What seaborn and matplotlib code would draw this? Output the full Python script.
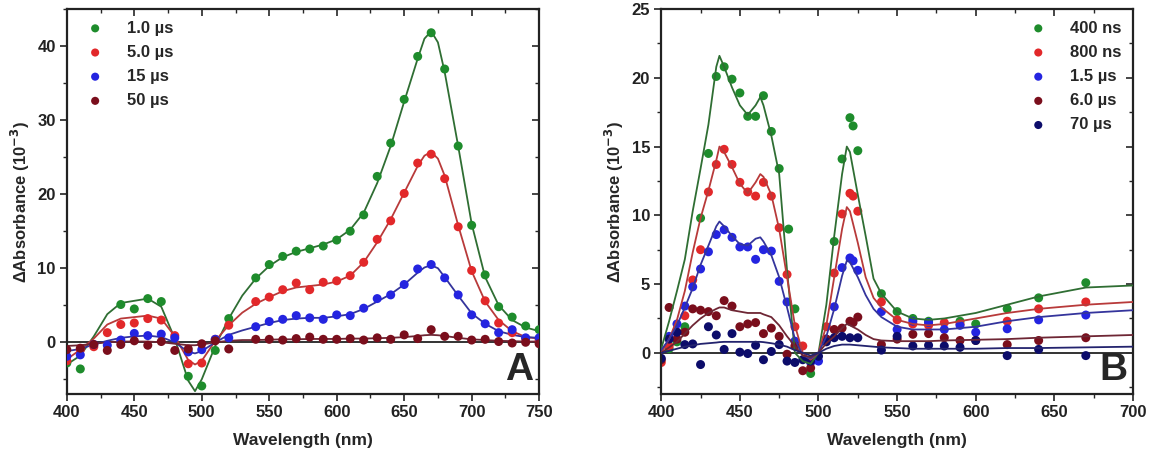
import matplotlib
matplotlib.use("Agg")
import matplotlib.pyplot as plt
import seaborn as sns
from matplotlib.ticker import MultipleLocator

# ---- panel A: measured points ----
green_a_x = [400, 410, 440, 450, 460, 470, 490, 500, 510, 520, 540, 550, 560, 570, 580, 590, 600, 610,
             620, 630, 640, 650, 660, 670, 680, 690, 700, 710, 720, 730, 740, 750]
green_a_y = [-2.8, -3.6, 5.1, 4.5, 5.9, 5.5, -4.6, -5.9, -1.1, 3.2, 8.7, 10.5, 11.6, 12.3, 12.6, 13.0, 13.8, 15.0,
             17.2, 22.4, 26.9, 32.8, 38.6, 41.8, 36.9, 26.5, 15.8, 9.1, 4.8, 3.4, 2.2, 1.7]
other_a_x = [400, 410, 420, 430, 440, 450, 460, 470, 480, 490, 500, 510, 520, 540, 550, 560, 570, 580,
             590, 600, 610, 620, 630, 640, 650, 660, 670, 680, 690, 700, 710, 720, 730, 740, 750]
red_a_y = [-2.5, -1.0, -0.6, 1.3, 2.4, 2.6, 3.2, 3.0, 0.9, -2.9, -2.8, 0.4, 2.3, 5.5, 6.1, 7.1, 8.0, 7.1,
           8.1, 8.3, 9.0, 10.8, 13.9, 16.4, 20.1, 24.2, 25.4, 22.1, 15.6, 9.7, 5.6, 2.6, 1.3, 0.5, 0.3]
blue_a_y = [-1.9, -1.7, -0.3, -0.4, 0.3, 1.2, 0.9, 1.1, 0.6, -1.3, -1.0, 0.4, 0.6, 2.1, 2.8, 3.1, 3.6, 3.3,
            3.1, 3.7, 3.6, 4.6, 5.9, 6.4, 7.8, 9.9, 10.5, 8.7, 6.4, 3.7, 2.5, 1.3, 1.7, 0.6, 0.6]
dred_a_y = [-1.0, -0.8, -0.3, -1.1, -0.3, 0.2, -0.4, 0.1, -1.1, -0.9, -0.2, 0.2, -0.9, 0.4, 0.4, 0.3, 0.5, 0.7,
            0.4, 0.4, 0.5, 0.3, 0.6, 0.4, 1.0, 0.5, 1.7, 0.8, 0.8, 0.3, 0.4, 0.1, -0.1, 0.0, -0.2]

# ---- panel A: fitted curves ----
fit_a_x = [400, 410, 420, 430, 440, 450, 460, 470, 480, 490, 495, 500, 510, 520, 530, 540, 550, 560, 570, 580,
           590, 600, 610, 620, 630, 640, 650, 660, 665, 670, 675, 680, 690, 700, 710, 720, 730, 740, 750]
fit_green_a = [-3.0, -1.8, 0.8, 3.8, 5.3, 5.6, 5.9, 4.8, 0.5, -5.2, -6.6, -5.0, -0.5, 3.2, 6.3, 8.6, 10.3, 11.5,
               12.2, 12.7, 13.2, 13.9, 15.2, 17.5, 21.5, 26.5, 32.5, 38.3, 41.0, 42.0, 40.5, 36.5, 26.5, 16.0,
               8.8, 5.0, 3.0, 2.0, 1.5]
fit_red_a = [-2.3, -1.0, 0.5, 2.4, 3.2, 3.4, 3.6, 3.2, 0.8, -2.4, -3.0, -2.5, 0.2, 2.3, 4.0, 5.2, 6.1, 6.9, 7.4,
             7.6, 7.8, 8.2, 9.0, 10.8, 13.5, 16.6, 20.2, 23.8, 25.2, 25.7, 24.8, 22.5, 15.8, 9.6, 5.5, 3.0, 1.5,
             0.7, 0.5]
fit_blue_a = [-1.2, -0.9, -0.3, 0.2, 0.6, 0.8, 0.9, 0.7, 0.0, -1.3, -1.5, -1.2, 0.0, 1.0, 1.6, 2.1, 2.6, 3.0,
              3.2, 3.3, 3.3, 3.5, 3.8, 4.5, 5.5, 6.5, 7.8, 9.4, 10.1, 10.4, 10.0, 8.8, 6.3, 3.9, 2.5, 1.5, 1.0,
              0.7, 0.6]
fit_dred_a = [-0.5, -0.4, -0.2, 0.0, 0.1, 0.1, 0.1, 0.0, -0.2, -0.4, -0.4, -0.3, 0.0, 0.2, 0.3, 0.3, 0.35, 0.4,
              0.4, 0.45, 0.45, 0.45, 0.5, 0.5, 0.55, 0.6, 0.7, 0.85, 0.95, 1.0, 0.95, 0.85, 0.6, 0.4, 0.3, 0.2,
              0.15, 0.1, 0.1]
labels_a = ["1.0 µs", "5.0 µs", "15 µs", "50 µs"]

# ---- panel B: measured points ----
green_b_x = [405, 410, 415, 425, 430, 435, 440, 445, 450, 455, 460, 465, 470, 475, 481, 485, 495, 510, 515,
             520, 522, 525, 540, 550, 560, 570, 590, 600, 620, 640, 670]
green_b_y = [0.3, 0.8, 1.9, 9.8, 14.5, 20.1, 20.8, 19.9, 18.9, 17.2, 17.2, 18.7, 16.1, 13.4, 9.0, 3.2, -1.5,
             8.1, 14.1, 17.1, 16.5, 14.7, 4.3, 3.0, 2.5, 2.3, 2.3, 2.1, 3.2, 4.0, 5.1]
red_b_x = [400, 405, 410, 415, 420, 425, 430, 435, 440, 445, 450, 455, 460, 465, 470, 475, 480, 485, 490,
           505, 510, 515, 520, 522, 525, 540, 550, 560, 570, 580, 590, 620, 640, 670]
red_b_y = [-0.7, 0.5, 1.5, 2.7, 5.3, 7.5, 11.7, 13.7, 14.8, 13.7, 12.4, 11.7, 11.4, 12.4, 11.4, 9.1, 5.7, 1.9,
           0.5, 1.9, 5.8, 10.1, 11.6, 11.4, 10.3, 3.7, 2.4, 2.1, 2.0, 2.2, 2.1, 2.3, 3.2, 3.7]
blue_b_x = [405, 410, 415, 420, 425, 430, 435, 440, 445, 450, 455, 460, 465, 470, 475, 480, 485, 495, 500,
            505, 510, 515, 520, 522, 525, 540, 550, 560, 570, 580, 590, 600, 620, 640, 670]
blue_b_y = [1.2, 2.1, 3.4, 4.8, 6.1, 7.35, 8.6, 8.95, 8.4, 7.7, 7.7, 6.8, 7.5, 7.4, 5.2, 3.7, 0.85, -0.7, -0.6,
            1.0, 3.35, 6.2, 6.9, 6.7, 6.0, 3.0, 1.7, 2.3, 2.2, 1.7, 2.0, 1.5, 1.75, 2.4, 2.75]
dred_b_x = [400, 405, 410, 415, 420, 425, 430, 435, 440, 445, 450, 455, 460, 465, 470, 475, 480, 485, 490,
            495, 505, 510, 515, 520, 522, 525, 540, 550, 560, 570, 580, 590, 600, 620, 640, 670]
dred_b_y = [-0.5, 3.3, 1.0, 1.5, 3.2, 3.1, 3.0, 2.7, 3.8, 3.4, 1.9, 2.1, 2.2, 1.4, 1.8, 1.2, -0.1, 0.5, -1.3,
            -1.1, 1.0, 1.7, 1.8, 2.3, 2.2, 2.6, 0.6, 1.0, 1.35, 1.4, 1.1, 0.9, 0.9, 0.6, 0.9, 1.1]
navy_b_x = [400, 405, 410, 415, 420, 425, 430, 435, 440, 445, 450, 455, 460, 465, 470, 475, 480, 485, 490,
            495, 500, 505, 510, 515, 520, 525, 540, 550, 560, 570, 580, 590, 600, 620, 640, 670]
navy_b_y = [-0.4, 1.0, 1.5, 0.6, 0.65, -0.85, 1.9, 1.3, 0.25, 1.4, 0.05, -0.05, 0.55, -0.5, 0.1, 0.6, -0.6,
            -0.7, -0.5, -0.6, -0.25, 0.8, 1.1, 1.2, 1.1, 1.1, 0.2, 1.2, 0.5, 0.55, 0.5, 0.4, 0.9, -0.2, 0.25, -0.2]

# ---- panel B: fitted curves ----
fit_b_x = [400, 405, 410, 415, 420, 425, 430, 435, 437, 440, 445, 450, 455, 460, 463, 465, 470, 475, 480, 485,
           490, 495, 500, 505, 510, 515, 518, 520, 525, 530, 535, 540, 550, 560, 570, 580, 600, 620, 640, 670, 700]
fit_green_b = [0.3, 2.3, 4.5, 6.8, 10.3, 13.4, 16.6, 20.8, 21.6, 20.8, 19.3, 18.0, 17.3, 18.0, 18.6, 18.0, 15.8,
               13.0, 6.0, 0.0, -0.6, -0.8, 0.0, 3.5, 8.5, 13.0, 15.0, 14.6, 11.5, 8.5, 5.4, 4.3, 3.0, 2.5, 2.4,
               2.5, 2.9, 3.5, 4.1, 4.75, 4.9]
fit_red_b = [0.0, 1.0, 2.4, 4.5, 7.3, 9.8, 11.8, 14.0, 15.0, 14.6, 13.5, 12.3, 11.6, 12.4, 13.0, 12.8, 11.5, 9.0,
             5.5, 2.0, 0.0, -0.5, 0.0, 2.0, 5.5, 9.0, 10.6, 10.3, 8.0, 5.5, 4.0, 3.3, 2.4, 2.1, 2.0, 2.1, 2.5,
             2.9, 3.2, 3.5, 3.7]
fit_blue_b = [0.2, 1.0, 2.0, 3.3, 4.7, 6.4, 7.8, 9.2, 9.55, 9.2, 8.5, 7.9, 7.8, 8.3, 8.4, 8.1, 7.1, 5.5, 3.3,
              1.0, -0.2, -0.4, 0.0, 1.2, 3.2, 5.6, 6.7, 6.6, 5.5, 4.2, 3.2, 2.6, 1.9, 1.7, 1.7, 1.7, 1.9, 2.3,
              2.6, 2.9, 3.1]
fit_dred_b = [0.0, 0.4, 0.8, 1.4, 2.0, 2.5, 2.9, 3.2, 3.3, 3.3, 3.1, 3.0, 2.9, 2.9, 2.9, 2.8, 2.6, 2.0, 1.2,
              0.5, -0.2, -0.3, 0.0, 0.7, 1.2, 1.8, 2.1, 2.0, 1.7, 1.3, 1.0, 0.9, 0.85, 0.85, 0.85, 0.9, 0.95,
              1.0, 1.1, 1.2, 1.3]
fit_navy_b = [0.0, 0.15, 0.3, 0.45, 0.55, 0.65, 0.7, 0.75, 0.78, 0.8, 0.8, 0.8, 0.8, 0.8, 0.8, 0.78, 0.7, 0.6,
              0.45, 0.2, 0.0, -0.2, 0.0, 0.3, 0.5, 0.6, 0.6, 0.6, 0.55, 0.5, 0.45, 0.4, 0.35, 0.3, 0.3, 0.3, 0.3,
              0.35, 0.35, 0.4, 0.45]
labels_b = ["400 ns", "800 ns", "1.5 µs", "6.0 µs", "70 µs"]

dot_colors = ["#1e8c2c", "#e2282a", "#2424e0", "#7a0e1c", "#0c0c6a"]
line_colors = ["#2f6e33", "#b83a3a", "#34349c", "#6e2634", "#23236e"]

sns.set_theme(style="ticks")
plt.rcParams["font.family"] = ["Liberation Sans", "DejaVu Sans"]
plt.rcParams["font.weight"] = "bold"
plt.rcParams["axes.labelweight"] = "bold"
plt.rcParams["mathtext.default"] = "bf"

fig = plt.figure(figsize=(11.52, 4.53), dpi=100)
ax_a = fig.add_axes([0.058, 0.130, 0.410, 0.850])
ax_b = fig.add_axes([0.574, 0.130, 0.4095, 0.850])


def style_axes(ax, xlim, ylim, xmaj, ymaj):
    ax.set_xlim(*xlim)
    ax.set_ylim(*ylim)
    ax.xaxis.set_major_locator(MultipleLocator(xmaj))
    ax.xaxis.set_minor_locator(MultipleLocator(xmaj / 2))
    ax.yaxis.set_major_locator(MultipleLocator(ymaj))
    ax.yaxis.set_minor_locator(MultipleLocator(ymaj / 2))
    for s in ax.spines.values():
        s.set_visible(True)
        s.set_linewidth(1.6)
        s.set_color("#222222")
    ax.tick_params(which="major", direction="out", length=5, width=1.2, labelsize=12, colors="#222222",
                   pad=3)
    ax.tick_params(which="minor", direction="out", length=3, width=1.0)
    # mirrored ticks pointing inward on top and right
    top = ax.secondary_xaxis("top")
    top.xaxis.set_major_locator(MultipleLocator(xmaj))
    top.xaxis.set_minor_locator(MultipleLocator(xmaj / 2))
    top.tick_params(which="major", direction="in", length=5, width=1.2, labeltop=False)
    top.tick_params(which="minor", direction="in", length=3, width=1.0)
    right = ax.secondary_yaxis("right")
    right.yaxis.set_major_locator(MultipleLocator(ymaj))
    right.yaxis.set_minor_locator(MultipleLocator(ymaj / 2))
    right.tick_params(which="major", direction="in", length=5, width=1.2, labelright=False)
    right.tick_params(which="minor", direction="in", length=3, width=1.0)
    ax.axhline(0, color="#333333", lw=1.4, zorder=1)
    ax.set_xlabel("Wavelength (nm)", fontsize=12.5, labelpad=9)
    ax.set_ylabel(r"ΔAbsorbance (10$^{-3}$)", fontsize=12, labelpad=4)
    for lab in ax.get_xticklabels() + ax.get_yticklabels():
        lab.set_fontweight("bold")


# panel A
pts_a = [(green_a_x, green_a_y), (other_a_x, red_a_y), (other_a_x, blue_a_y), (other_a_x, dred_a_y)]
fits_a = [fit_green_a, fit_red_a, fit_blue_a, fit_dred_a]
for i, fy in enumerate(fits_a):
    sns.lineplot(x=fit_a_x, y=fy, ax=ax_a, color=line_colors[i], lw=1.3, sort=False,
                 estimator=None, zorder=2)
for i, (xs, ys) in enumerate(pts_a):
    sns.scatterplot(x=xs, y=ys, ax=ax_a, color=dot_colors[i], s=42, edgecolor="none",
                    label=labels_a[i], zorder=3)
style_axes(ax_a, (400, 750), (-7, 45), 50, 10)
ax_a.legend(loc="upper left", frameon=False, handletextpad=0.9, labelspacing=0.55,
            borderaxespad=0.3, markerscale=0.9, prop={"weight": "bold", "size": 12})
ax_a.text(0.988, 0.015, "A", transform=ax_a.transAxes, ha="right", va="bottom",
          fontsize=28, fontweight="bold")

# panel B
pts_b = [(green_b_x, green_b_y), (red_b_x, red_b_y), (blue_b_x, blue_b_y), (dred_b_x, dred_b_y),
         (navy_b_x, navy_b_y)]
fits_b = [fit_green_b, fit_red_b, fit_blue_b, fit_dred_b, fit_navy_b]
for i, (xs, ys) in enumerate(pts_b):
    sns.scatterplot(x=xs, y=ys, ax=ax_b, color=dot_colors[i], s=42, edgecolor="none",
                    label=labels_b[i], zorder=2)
for i, fy in enumerate(fits_b):
    sns.lineplot(x=fit_b_x, y=fy, ax=ax_b, color=line_colors[i], lw=1.3, sort=False,
                 estimator=None, zorder=3)
style_axes(ax_b, (400, 700), (-3, 25), 50, 5)
ax_b.legend(loc="upper right", frameon=False, handletextpad=0.9, labelspacing=0.55,
            borderaxespad=0.3, markerscale=0.9, prop={"weight": "bold", "size": 12})
ax_b.text(0.988, 0.015, "B", transform=ax_b.transAxes, ha="right", va="bottom",
          fontsize=28, fontweight="bold")

fig.savefig("out.png", dpi=100)
